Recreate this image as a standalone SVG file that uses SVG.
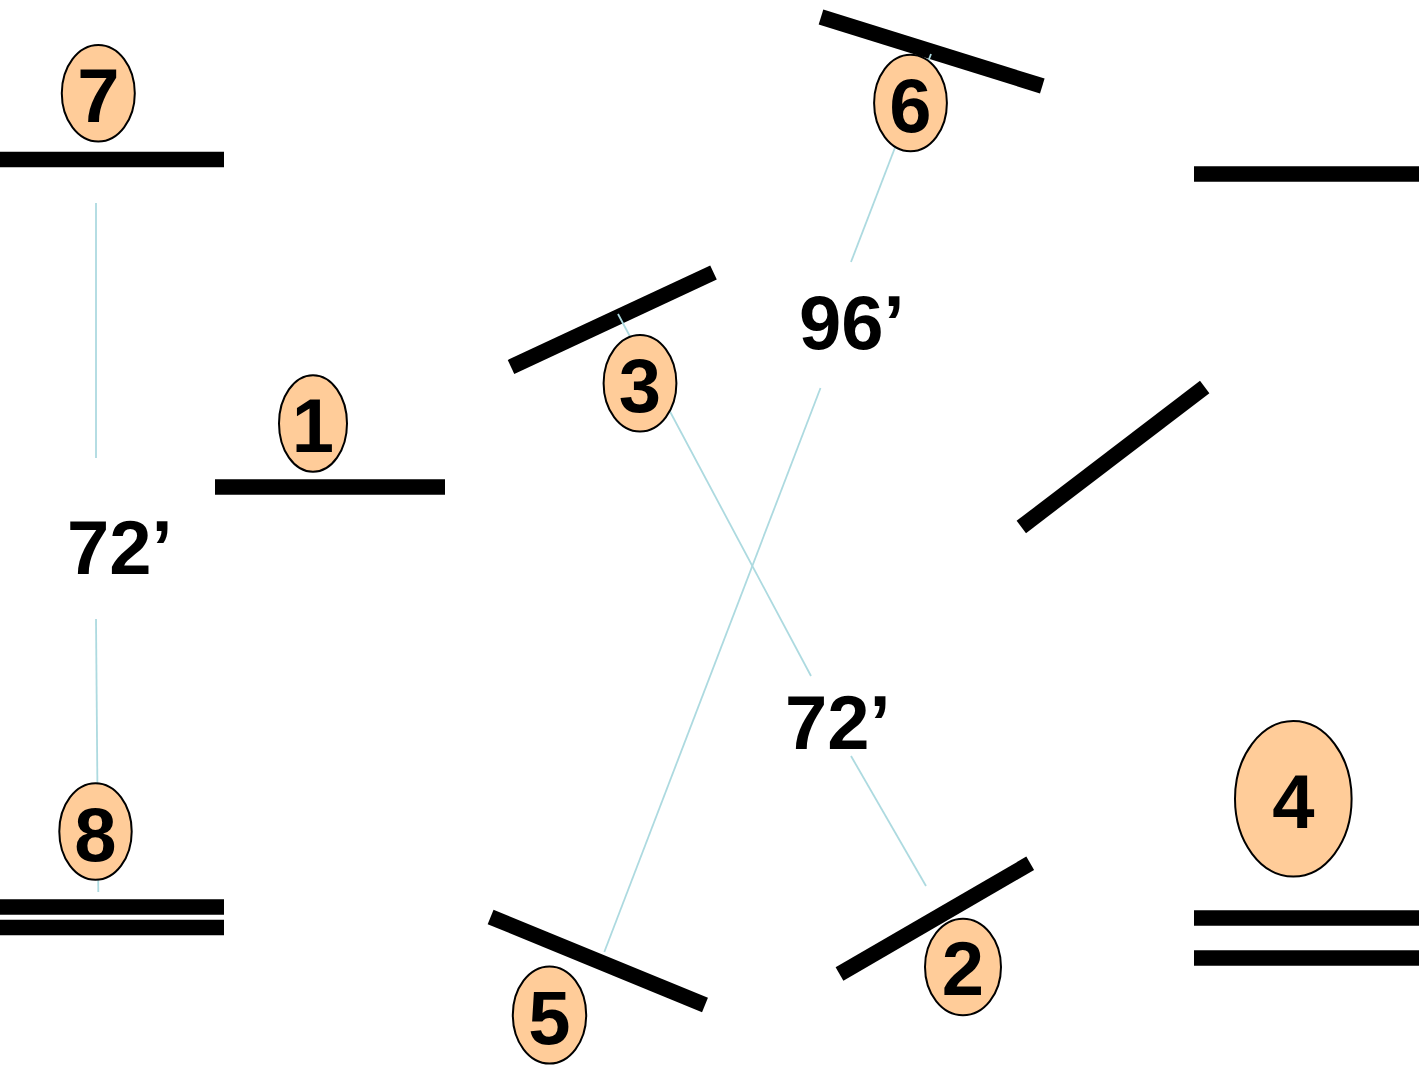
<svg xmlns="http://www.w3.org/2000/svg" width="1425" height="1067" viewBox="0 0 1425 1067">
<style>
.bar{stroke:#000;stroke-width:15.5;stroke-linecap:butt;fill:none}
.conn{stroke:#ADDAE0;stroke-width:1.8;fill:none}
.badge{fill:#FFCC99;stroke:#000;stroke-width:2}
.num{font-family:"Liberation Sans",Arial,sans-serif;font-weight:bold;font-size:76px;fill:#000;text-anchor:middle}
.lbl{font-family:"Liberation Sans",Arial,sans-serif;font-weight:bold;font-size:76px;fill:#000}
</style>
<rect width="1425" height="1067" fill="#fff"/>
<g id="walls">
<line class="bar" x1="0" y1="159.5" x2="224" y2="159.5"/>
<line class="bar" x1="215" y1="487" x2="445" y2="487"/>
<line class="bar" x1="511" y1="367" x2="713.5" y2="272.5"/>
<line class="bar" x1="821" y1="17" x2="1042.3" y2="86"/>
<line class="bar" x1="1194" y1="174" x2="1419" y2="174"/>
<line class="bar" x1="1021.3" y1="527" x2="1204.7" y2="387"/>
<line class="bar" x1="490.6" y1="917" x2="705" y2="1005"/>
<line class="bar" x1="839.5" y1="974" x2="1030.2" y2="863.3"/>
<line class="bar" x1="1194" y1="918" x2="1419" y2="918"/>
<line class="bar" x1="1194" y1="958" x2="1419" y2="958"/>
<line class="bar" x1="0" y1="907" x2="224" y2="907"/>
<line class="bar" x1="0" y1="927.5" x2="224" y2="927.5"/>
</g>
<g id="connectors">
<line class="conn" x1="96" y1="203" x2="96" y2="458"/>
<line class="conn" x1="96" y1="619" x2="98.3" y2="892"/>
<line class="conn" x1="931" y1="54" x2="851" y2="262"/>
<line class="conn" x1="820.5" y1="388" x2="604.3" y2="952"/>
<line class="conn" x1="618" y1="314" x2="811" y2="676"/>
<line class="conn" x1="851" y1="756" x2="926" y2="886"/>
</g>
<g id="labels">
<text class="lbl" x="67" y="574">72’</text>
<text class="lbl" x="799" y="349">96’</text>
<text class="lbl" x="785" y="749">72’</text>
</g>
<g id="node7"><ellipse class="badge" cx="98.3" cy="93.3" rx="36.5" ry="48.3"/><text class="num" x="98.3" y="122">7</text></g>
<g id="node1"><ellipse class="badge" cx="313" cy="423.5" rx="34" ry="48.3"/><text class="num" x="313" y="452">1</text></g>
<g id="node3"><ellipse class="badge" cx="640" cy="383.3" rx="36.4" ry="48.3"/><text class="num" x="640" y="412">3</text></g>
<g id="node6"><ellipse class="badge" cx="910.5" cy="103" rx="36.4" ry="48.3"/><text class="num" x="910.5" y="132">6</text></g>
<g id="node4"><ellipse class="badge" cx="1293.3" cy="798.8" rx="58.3" ry="77.8"/><text class="num" x="1293.3" y="828">4</text></g>
<g id="node8"><ellipse class="badge" cx="95.5" cy="831.5" rx="36.2" ry="48.3"/><text class="num" x="95.5" y="861">8</text></g>
<g id="node5"><ellipse class="badge" cx="549.5" cy="1015" rx="36.7" ry="48.5"/><text class="num" x="549.5" y="1044">5</text></g>
<g id="node2"><ellipse class="badge" cx="963" cy="967" rx="38" ry="48.3"/><text class="num" x="963" y="995">2</text></g>
</svg>
